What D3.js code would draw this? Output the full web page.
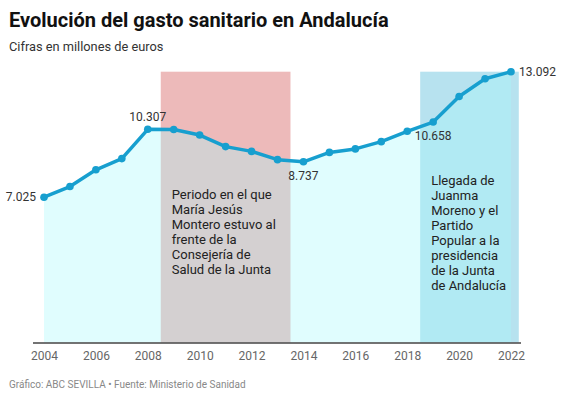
<!DOCTYPE html>
<html><head><meta charset="utf-8">
<script src="https://cdn.jsdelivr.net/npm/d3@7"></script>
<style>
body{margin:0;background:#fff;font-family:Roboto,"Noto Sans",sans-serif;}
</style></head>
<body><svg id="c" width="561" height="393"></svg>
<script>
const years = [2004,2005,2006,2007,2008,2009,2010,2011,2012,2013,2014,2015,2016,2017,2018,2019,2020,2021,2022];
const values = [7.025,7.54,8.35,8.89,10.307,10.30,10.03,9.47,9.24,8.84,8.737,9.19,9.36,9.71,10.21,10.658,11.89,12.75,13.092];
const tickYears = [2004,2006,2008,2010,2012,2014,2016,2018,2020,2022];
const labelled = [
  {year:2004, text:"7.025", pos:"left"},
  {year:2008, text:"10.307", pos:"above"},
  {year:2014, text:"8.737", pos:"below"},
  {year:2019, text:"10.658", pos:"below"},
  {year:2022, text:"13.092", pos:"right"}
];
const periods = [
  {from:2008.5, to:2013.5, color:"#edbaba", lines:["Periodo en el que","María Jesús","Montero estuvo al","frente de la","Consejería de","Salud de la Junta"], textY:194},
  {from:2018.5, to:2022.3, color:"#b7e2ef", lines:["Llegada de","Juanma","Moreno y el","Partido","Popular a la","presidencia","de la Junta","de Andalucía"], textY:180}
];

const svg = d3.select("#c");
const x = d3.scaleLinear().domain([2004,2022]).range([44,511]);
const y = d3.scaleLinear().domain([0,13.092]).range([342.5,71.7]);

svg.append("text").attr("x",9).attr("y",27).attr("font-size",20).attr("font-weight",700).attr("fill","#111")
  .text("Evolución del gasto sanitario en Andalucía");
svg.append("text").attr("x",9).attr("y",51).attr("font-size",12.8).attr("fill","#333")
  .text("Cifras en millones de euros");

// period rects
svg.selectAll("rect.p").data(periods).enter().append("rect")
  .attr("x",d=>x(d.from)).attr("width",d=>x(d.to)-x(d.from))
  .attr("y",y(13.092)).attr("height",y(0)-y(13.092))
  .attr("fill",d=>d.color);

// area
const area = d3.area().x((d,i)=>x(years[i])).y0(y(0)).y1(d=>y(d));
svg.append("path").datum(values).attr("d",area).attr("fill","#a6f9fc").attr("fill-opacity",0.35);

// period texts
periods.forEach(p=>{
  const t = svg.append("text").attr("font-size",13).attr("fill","#222");
  p.lines.forEach((l,i)=>{
    t.append("tspan").attr("x",x(p.from)+11).attr("y",p.textY+4.5+i*15.1).text(l);
  });
});

// axis
const axisY = y(0)+0.5;
svg.append("line").attr("x1",33).attr("x2",521).attr("y1",axisY).attr("y2",axisY).attr("stroke","#444").attr("stroke-width",1.5);
const xAxis = d3.axisBottom(x).tickValues(tickYears).tickFormat(d3.format("d")).tickSize(0).tickPadding(8);
const ax = svg.append("g").attr("transform",`translate(0,${axisY})`).call(xAxis);
ax.select(".domain").remove();
ax.selectAll("text").attr("font-size",12).attr("fill","#666").attr("font-family","Roboto,sans-serif");

// line
const line = d3.line().x((d,i)=>x(years[i])).y(d=>y(d));
svg.append("path").datum(values).attr("d",line).attr("fill","none").attr("stroke","#179fcf").attr("stroke-width",3.5).attr("stroke-linejoin","round");
svg.selectAll("circle.pt").data(values).enter().append("circle")
  .attr("cx",(d,i)=>x(years[i])).attr("cy",d=>y(d)).attr("r",3.8).attr("fill","#179fcf");

// labels
labelled.forEach(l=>{
  const v = values[years.indexOf(l.year)];
  const px = x(l.year), py = y(v);
  const t = svg.append("text").attr("font-size",12).attr("fill","#333").text(l.text);
  if(l.pos==="left") t.attr("x",px-8).attr("y",py+4).attr("text-anchor","end");
  if(l.pos==="right") t.attr("x",px+8).attr("y",py+4).attr("text-anchor","start");
  if(l.pos==="above") t.attr("x",px).attr("y",py-8).attr("text-anchor","middle");
  if(l.pos==="below") t.attr("x",px).attr("y",py+18).attr("text-anchor","middle");
});

svg.append("text").attr("x",9).attr("y",388).attr("font-size",10).attr("fill","#888")
  .text("Gráfico: ABC SEVILLA • Fuente: Ministerio de Sanidad");
</script></body></html>
